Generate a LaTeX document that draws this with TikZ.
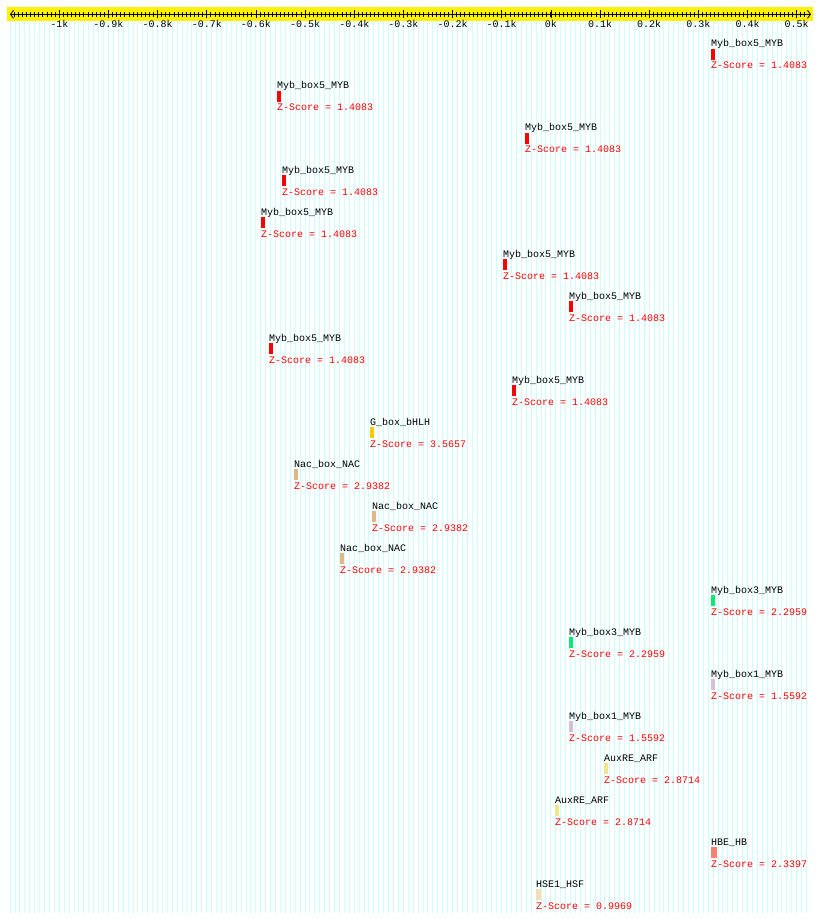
\documentclass[tikz,border=0pt]{standalone}
\usepackage{fontspec}
\newfontfamily\pixfont{Liberation Mono}
\usepackage{xcolor}
\usepackage{tikz}
\usetikzlibrary{arrows.meta}
\definecolor{gridcyan}{RGB}{204,255,255}
\definecolor{mybred}{RGB}{255,0,0}
\definecolor{bhlhgold}{RGB}{255,204,0}
\definecolor{nactan}{RGB}{222,184,135}
\definecolor{mybgreen}{RGB}{0,238,118}
\definecolor{mybthistle}{RGB}{216,191,216}
\definecolor{arfkhaki}{RGB}{240,230,140}
\definecolor{hbsalmon}{RGB}{250,128,114}
\definecolor{hsfwheat}{RGB}{245,222,179}
\begin{document}
\begin{tikzpicture}[x=1pt,y=-1pt,font=\pixfont\fontsize{10}{12}\selectfont,
motif/.style={anchor=base west,inner sep=0pt},
zscore/.style={anchor=base west,inner sep=0pt,text=red},
ticklab/.style={anchor=base,inner sep=0pt}]
\useasboundingbox[fill=white](0,0)rectangle(820,923);
% background grid, one line per 10 bp
\foreach \i in {0,...,162}
\draw[gridcyan,line width=1pt]({10.1+4.916*\i},21)--({10.1+4.916*\i},913);
% ruler
\fill[yellow](7,7)rectangle(813,21);
\coordinate(rl)at(10,14.3);
\coordinate(rr)at(811,14.3);
\draw[line width=0.8pt,{Straight Barb[length=3pt,width=8pt]}-{Straight Barb[length=3pt,width=8pt]}](rl)--(rr);
\foreach \i in {1,...,194}
\draw[line width=0.8pt]({10.1+49.16/12*\i},12)--({10.1+49.16/12*\i},16.7);
\foreach \k/\lab [count=\n] in {-10/-1k,-9/-0.9k,-8/-0.8k,-7/-0.7k,-6/-0.6k,-5/-0.5k,-4/-0.4k,-3/-0.3k,-2/-0.2k,-1/-0.1k,0/0k,1/0.1k,2/0.2k,3/0.3k,4/0.4k,5/0.5k}
{\draw[line width=0.8pt]({550.9+49.16*\k},10.5)--({550.9+49.16*\k},18)
({550.9+49.16*\k},27.5)node[ticklab](tick\n){\lab};}
% motif hits
\foreach \x/\name/\z/\col/\w [count=\r] in {
711/Myb\_box5\_MYB/1.4083/mybred/4,
277/Myb\_box5\_MYB/1.4083/mybred/4,
525/Myb\_box5\_MYB/1.4083/mybred/4,
282/Myb\_box5\_MYB/1.4083/mybred/4,
261/Myb\_box5\_MYB/1.4083/mybred/4,
503/Myb\_box5\_MYB/1.4083/mybred/4,
569/Myb\_box5\_MYB/1.4083/mybred/4,
269/Myb\_box5\_MYB/1.4083/mybred/4,
512/Myb\_box5\_MYB/1.4083/mybred/4,
370/G\_box\_bHLH/3.5657/bhlhgold/4,
294/Nac\_box\_NAC/2.9382/nactan/4,
372/Nac\_box\_NAC/2.9382/nactan/4,
340/Nac\_box\_NAC/2.9382/nactan/4,
711/Myb\_box3\_MYB/2.2959/mybgreen/4,
569/Myb\_box3\_MYB/2.2959/mybgreen/4,
711/Myb\_box1\_MYB/1.5592/mybthistle/4,
569/Myb\_box1\_MYB/1.5592/mybthistle/4,
604/AuxRE\_ARF/2.8714/arfkhaki/4,
555/AuxRE\_ARF/2.8714/arfkhaki/4,
711/HBE\_HB/2.3397/hbsalmon/6,
536/HSE1\_HSF/0.9969/hsfwheat/5}
{\node[motif](name\r)at(\x,{47+42*(\r-1)}){\name};
\fill[\col](\x,{49+42*(\r-1)})rectangle++(\w,11);
\node[zscore](score\r)at(\x,{69+42*(\r-1)}){Z-Score = \z};}
\end{tikzpicture}
\end{document}
